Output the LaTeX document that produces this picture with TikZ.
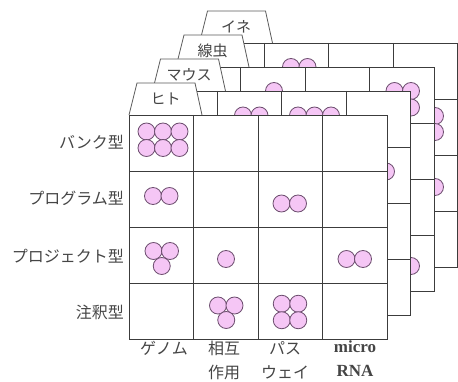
\documentclass[tikz,border=0pt]{standalone}
\usepackage{fontspec}
\newfontfamily\jp{Noto Sans CJK JP}
\newfontfamily\lat{Liberation Serif}
\definecolor{cfill}{HTML}{F5C6F5}
\definecolor{cline}{HTML}{6E4F70}
\definecolor{gline}{HTML}{3C3C3C}
\definecolor{tline}{HTML}{5A5A5A}
\definecolor{txt}{HTML}{454545}
\tikzset{
  gridline/.style={draw=gline, line width=0.9pt},
  tabline/.style={draw=tline, line width=0.8pt, fill=white},
  tablabel/.style={font=\jp\fontsize{15}{15}\selectfont, text=txt, inner sep=0pt},
  rowlabel/.style={font=\jp\fontsize{16}{16}\selectfont, text=txt, anchor=east, inner sep=0pt},
  collabel/.style={font=\jp\fontsize{16}{24}\selectfont, text=txt, align=center, inner sep=0pt, anchor=north},
  latlabel/.style={font=\lat\bfseries\fontsize{17}{24}\selectfont, text=txt, align=center, inner sep=0pt, anchor=north},
  circ/.style={fill=cfill, draw=cline, line width=0.8pt},
}
\newcommand\cir[2]{\draw[circ] (#1,#2) circle[radius=8.5pt];}
\newcommand\mylayer[4]{%
  \begin{scope}[shift={(#1,#2)}]
    \fill[white] (0,0) rectangle (258,224);
    \draw[tabline] (0,0) -- (8,-32) -- (66,-32) -- (73,0);
    \node[tablabel] (#3) at (36.5,-16) {#4};
    \draw[gridline] (0,0) rectangle (258,224);
    \foreach \xx in {64.5,129,193.5} \draw[gridline] (\xx,0) -- (\xx,224);
    \foreach \yy in {56,112,168} \draw[gridline] (0,\yy) -- (258,\yy);
  \end{scope}}
\begin{document}
\begin{tikzpicture}[x=1pt,y=-1pt]
\useasboundingbox (0,0) rectangle (458,382);
% layer 3: rice
\mylayer{199.5}{43}{ine}{イネ}
\cir{291}{67}\cir{307.5}{67}
\cir{418.5}{116}\cir{435}{116}\cir{418.5}{132}\cir{435}{132}
\cir{435}{187}
% layer 2: nematode
\mylayer{176}{67}{senchu}{線虫}
\cir{274}{91}
\cir{394.5}{91}\cir{411}{91}\cir{394.5}{107.5}\cir{411}{107.5}
\cir{411}{266}
% layer 1: mouse
\mylayer{152.5}{91}{mouse}{マウス}
\cir{243}{115.5}\cir{259.5}{115.5}
\cir{298}{115.5}\cir{314.5}{115.5}\cir{331}{115.5}
\cir{386}{171.5}
% layer 0: human
\mylayer{129}{115}{hito}{ヒト}
% r1c1: six
\cir{146.5}{131.5}\cir{163}{131.5}\cir{179.5}{131.5}
\cir{146.5}{148}\cir{163}{148}\cir{179.5}{148}
% r2c1: two
\cir{153}{196}\cir{169.5}{196}
% r3c1: three
\cir{153.5}{251}\cir{170}{251}\cir{161.75}{266}
% r2c3: two
\cir{281.5}{203.5}\cir{298}{203.5}
% r3c2: one
\cir{226}{259}
% r3c4: two
\cir{346.5}{259}\cir{363}{259}
% r4c2: three
\cir{218}{305.5}\cir{234.5}{305.5}\cir{226.25}{320}
% r4c3: four
\cir{281.75}{303.75}\cir{298.25}{303.75}\cir{281.75}{320.25}\cir{298.25}{320.25}
% row labels
\node[rowlabel] (r1) at (124,142) {バンク型};
\node[rowlabel] (r2) at (124,198) {プログラム型};
\node[rowlabel] (r3) at (124,256) {プロジェクト型};
\node[rowlabel] (r4) at (124,312) {注釈型};
% column labels
\node[collabel] (c1) at (164,341) {ゲノム};
\node[collabel] (c2) at (224,341) {相互\\作用};
\node[collabel] (c3) at (285,341) {パス\\ウェイ};
\node[latlabel] (c4) at (355,341) {micro\\RNA};
\end{tikzpicture}
\end{document}
